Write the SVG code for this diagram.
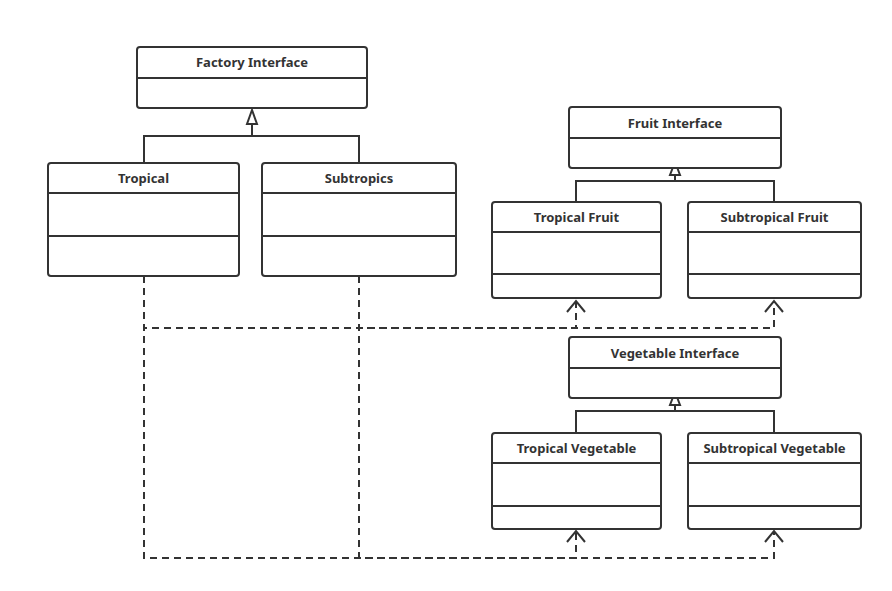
<svg xmlns="http://www.w3.org/2000/svg" width="892" height="591" viewBox="0 0 892 591">
<defs>
<style>
.box{fill:#fff;stroke:#333;stroke-width:2}
.div{stroke:#333;stroke-width:2}
.t{font-family:"Noto Sans","Open Sans","Liberation Sans",sans-serif;font-weight:bold;font-size:13px;fill:#333;text-anchor:middle}
.inh{fill:none;stroke:#333;stroke-width:2}
.dep{fill:none;stroke:#333;stroke-width:2;stroke-dasharray:7 5}
.open{fill:none;stroke:#333;stroke-width:2}
.tri{fill:#fff;stroke:#333;stroke-width:2}
</style>
</defs>
<rect width="892" height="591" fill="#fff"/>
<g id="connectors">
<path class="dep" d="M144 276 V328 H576 V302"/>
<path class="dep" d="M359 276 V328 H774 V302"/>
<path class="dep" d="M144 276 V558 H576 V532"/>
<path class="dep" d="M359 276 V558 H774 V532"/>
<path class="open" d="M567 312 L576 301 L585 312"/>
<path class="open" d="M765 312 L774 301 L783 312"/>
<path class="open" d="M567 542 L576 531 L585 542"/>
<path class="open" d="M765 542 L774 531 L783 542"/>
<path class="inh" d="M144 163 V136 H359 V163 M252 136 V124"/>
<path class="tri" d="M252 110 L247 124 L257 124 Z"/>
<path class="inh" d="M576 202 V181 H774 V202 M675 181 V175"/>
<path class="tri" d="M675 162 L670 175 L680 175 Z"/>
<path class="inh" d="M576 433 V411 H774 V433 M675 411 V405"/>
<path class="tri" d="M675 392 L670 405 L680 405 Z"/>
</g>
<g id="factory-interface">
<rect class="box" x="137" y="47" width="230" height="61" rx="3"/>
<line class="div" x1="137" y1="78" x2="367" y2="78"/>
<text class="t" x="252" y="67">Factory Interface</text>
</g>
<g id="tropical">
<rect class="box" x="48" y="163" width="191" height="113" rx="3"/>
<line class="div" x1="48" y1="193" x2="239" y2="193"/>
<line class="div" x1="48" y1="236" x2="239" y2="236"/>
<text class="t" x="143.5" y="183">Tropical</text>
</g>
<g id="subtropics">
<rect class="box" x="262" y="163" width="194" height="113" rx="3"/>
<line class="div" x1="262" y1="193" x2="456" y2="193"/>
<line class="div" x1="262" y1="236" x2="456" y2="236"/>
<text class="t" x="359" y="183">Subtropics</text>
</g>
<g id="fruit-interface">
<rect class="box" x="569" y="107" width="212" height="61" rx="3"/>
<line class="div" x1="569" y1="138" x2="781" y2="138"/>
<text class="t" x="675" y="128">Fruit Interface</text>
</g>
<g id="tropical-fruit">
<rect class="box" x="492" y="202" width="169" height="96" rx="3"/>
<line class="div" x1="492" y1="232" x2="661" y2="232"/>
<line class="div" x1="492" y1="274" x2="661" y2="274"/>
<text class="t" x="576.5" y="222">Tropical Fruit</text>
</g>
<g id="subtropical-fruit">
<rect class="box" x="688" y="202" width="173" height="96" rx="3"/>
<line class="div" x1="688" y1="232" x2="861" y2="232"/>
<line class="div" x1="688" y1="274" x2="861" y2="274"/>
<text class="t" x="774.5" y="222">Subtropical Fruit</text>
</g>
<g id="vegetable-interface">
<rect class="box" x="569" y="337" width="212" height="61" rx="3"/>
<line class="div" x1="569" y1="368" x2="781" y2="368"/>
<text class="t" x="675" y="358">Vegetable Interface</text>
</g>
<g id="tropical-vegetable">
<rect class="box" x="492" y="433" width="169" height="96" rx="3"/>
<line class="div" x1="492" y1="463" x2="661" y2="463"/>
<line class="div" x1="492" y1="506" x2="661" y2="506"/>
<text class="t" x="576.5" y="453">Tropical Vegetable</text>
</g>
<g id="subtropical-vegetable">
<rect class="box" x="688" y="433" width="173" height="96" rx="3"/>
<line class="div" x1="688" y1="463" x2="861" y2="463"/>
<line class="div" x1="688" y1="506" x2="861" y2="506"/>
<text class="t" x="774.5" y="453">Subtropical Vegetable</text>
</g>
</svg>
